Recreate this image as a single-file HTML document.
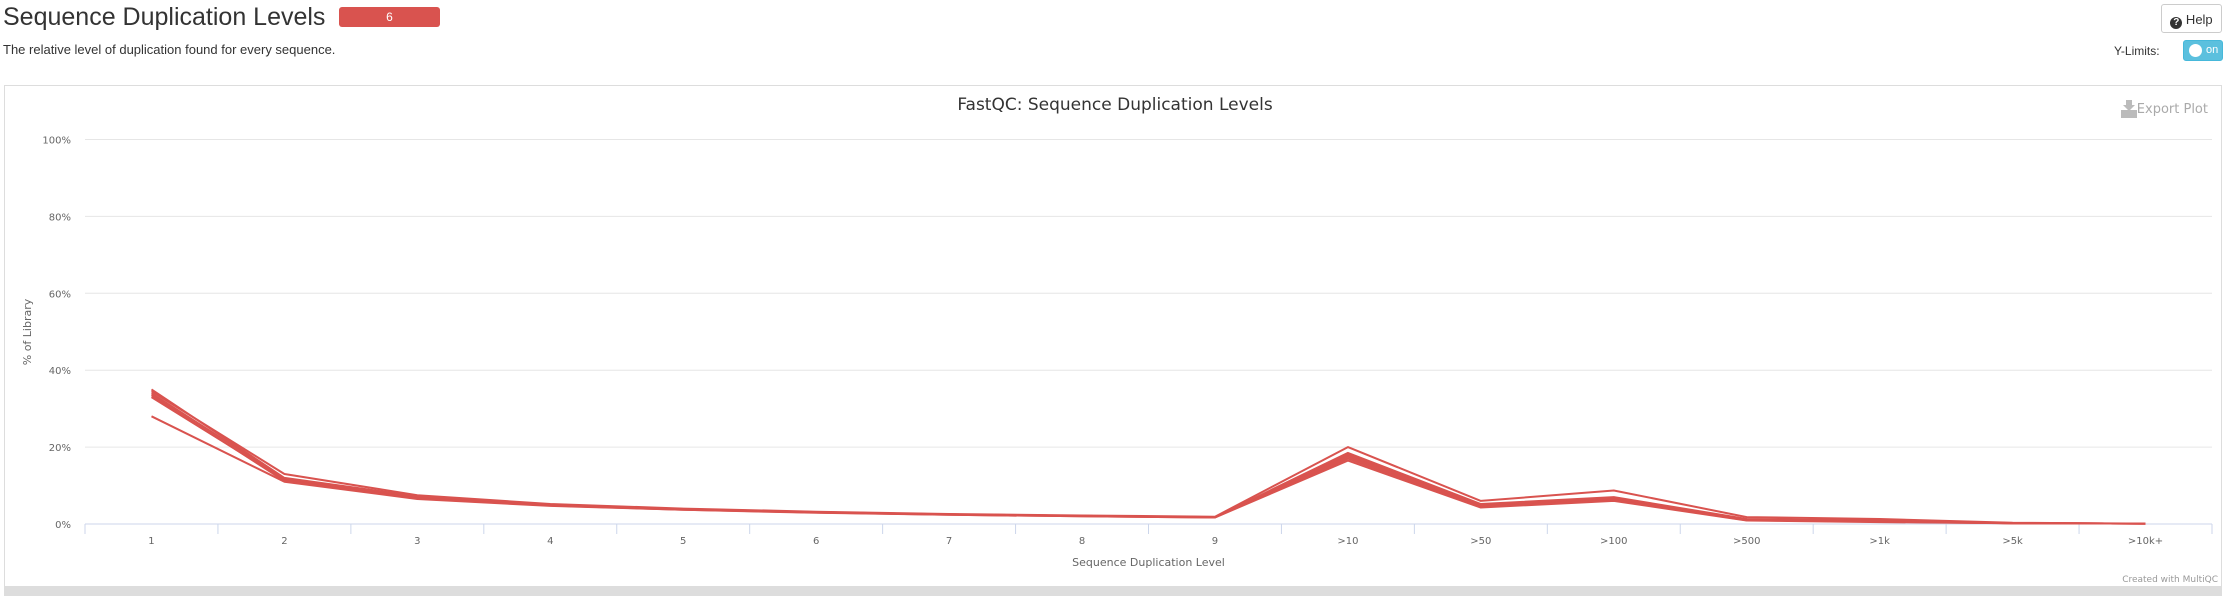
<!DOCTYPE html>
<html><head><meta charset="utf-8">
<style>
body{margin:0;width:2232px;height:610px;background:#fff;font-family:"Liberation Sans",sans-serif;position:relative;overflow:hidden}
.abs{position:absolute}
</style></head>
<body>
<div class="abs" style="left:3px;top:3px;font-size:25px;color:#333">Sequence Duplication Levels</div>
<div class="abs" style="left:339px;top:7px;width:101px;height:20px;background:#d9534f;border-radius:3px;color:#fff;font-size:12px;text-align:center;line-height:20px">6</div>
<div class="abs" style="left:3px;top:42px;font-size:13px;color:#333">The relative level of duplication found for every sequence.</div>
<div class="abs" style="left:2161px;top:4px;width:61px;height:29px;border:1px solid #ccc;border-radius:3px;font-size:13px;color:#333;line-height:29px;text-align:center;box-sizing:border-box"><span style="display:inline-block;width:12px;height:12px;border-radius:50%;background:#333;color:#fff;font-size:10px;line-height:12px;font-weight:bold;vertical-align:-1px">?</span> Help</div>
<div class="abs" style="left:2114px;top:44px;font-size:12px;color:#333">Y-Limits:</div>
<div class="abs" style="left:2183px;top:40px;width:40px;height:21px;background:#5bc0de;border-radius:3px;border:1px solid #46b8da;box-sizing:border-box">
<div style="position:absolute;left:5px;top:3px;width:13px;height:13px;border-radius:50%;background:#fff"></div>
<div style="position:absolute;left:22px;top:3px;font-size:11px;color:#fff">on</div></div>
<div class="abs" style="left:4px;top:85px;width:2218px;height:510px;border:1px solid #ddd;box-sizing:border-box"></div>
<div class="abs" style="left:4px;top:586px;width:2218px;height:10px;background:#ddd"></div>
<svg class="abs" style="left:0;top:0" width="2232" height="610" id="chart"></svg>
<script>
const categories=["1","2","3","4","5","6","7","8","9",">10",">50",">100",">500",">1k",">5k",">10k+"];
const yTicks=[0,20,40,60,80,100];
const s1=[34.5,13,7.5,5.2,4,3.2,2.6,2.2,1.9,20,6,8.7,1.8,1.3,0.3,0.1];
const s2=[33,11.5,6.8,4.8,3.8,3,2.5,2.1,1.8,18,5,6.5,1.2,0.8,0.2,0.1];
const s3=[34,11.8,7,5,3.9,3.1,2.5,2.1,1.8,17.5,4.8,6.8,1.1,0.7,0.2,0.1];
const s4=[33.5,11.2,6.6,4.8,3.7,3,2.4,2,1.7,17,4.5,6.2,1,0.6,0.2,0.1];
const s5=[35,12,7.2,5.1,3.9,3.1,2.5,2.1,1.8,18.5,5.2,7,1.3,0.9,0.2,0.1];
const s6=[28,11,6.5,4.7,3.7,2.9,2.4,2,1.7,16.5,4.3,6,0.9,0.5,0.2,0.1];
const series=[s1,s2,s3,s4,s5,s6];
const svg=document.getElementById('chart');
const NS='http://www.w3.org/2000/svg';
const L=85,R=2212,T=139.5,B=524;
const bw=(R-L)/categories.length;
function x(i){return L+bw*(i+0.5);}
function y(v){return B-(v/100)*(B-T);}
function mk(t,a,txt){const e=document.createElementNS(NS,t);for(const k in a)e.setAttribute(k,a[k]);if(txt!==undefined)e.textContent=txt;svg.appendChild(e);return e;}
let e;
e=mk('text',{x:1115,y:110,'text-anchor':'middle','font-size':17,fill:'#333','font-family':'DejaVu Sans, sans-serif'},'FastQC: Sequence Duplication Levels');


e=mk('path',{d:'M2121 110 h16 v8 h-16 z M2126 100 h6 v5 h3 l-6 6 l-6 -6 h3 z',fill:'#bbb'});


e=mk('text',{x:2208,y:113,'text-anchor':'end','font-size':13,fill:'#aaa','font-family':'DejaVu Sans, sans-serif'},'Export Plot');


yTicks.forEach(v=>{
 if(v>0){e=mk('line',{x1:L,x2:R,y1:y(v),y2:y(v),stroke:'#e6e6e6','stroke-width':1});
 
 }
 e=mk('text',{x:71,y:y(v)+4,'text-anchor':'end','font-size':10,fill:'#666','font-family':'DejaVu Sans, sans-serif'},v+'%');
 
 
});
e=mk('line',{x1:L,x2:R,y1:B,y2:B,stroke:'#ccd6eb','stroke-width':1});


for(let i=0;i<=categories.length;i++){
 e=mk('line',{x1:L+bw*i,x2:L+bw*i,y1:B,y2:B+10,stroke:'#ccd6eb','stroke-width':1});
 
 
}
categories.forEach((c,i)=>{
 e=mk('text',{x:x(i),y:544,'text-anchor':'middle','font-size':10,fill:'#666','font-family':'DejaVu Sans, sans-serif'},c);
 
 
});
e=mk('text',{x:(L+R)/2,y:566,'text-anchor':'middle','font-size':11,fill:'#666','font-family':'DejaVu Sans, sans-serif'},'Sequence Duplication Level');


e=mk('text',{x:31,y:332,'text-anchor':'middle','font-size':11,fill:'#666','font-family':'DejaVu Sans, sans-serif',transform:'rotate(-90 31 332)'},'% of Library');


e=mk('text',{x:2218,y:582,'text-anchor':'end','font-size':9,fill:'#999','font-family':'DejaVu Sans, sans-serif'},'Created with MultiQC');


series.forEach((s,k)=>{
 const d=s.map((v,i)=>(i?'L':'M')+x(i).toFixed(1)+' '+y(v).toFixed(1)).join(' ');
 e=mk('path',{d:d,fill:'none',stroke:'#d9534f','stroke-width':2,'stroke-linejoin':'round'});
 
 
});
</script>
</body></html>
